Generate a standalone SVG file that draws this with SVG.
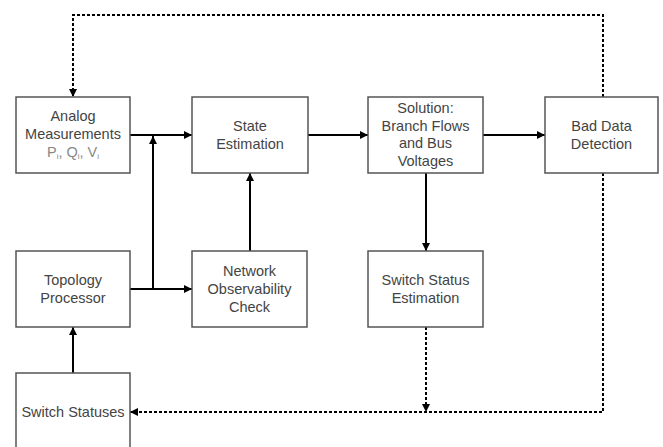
<svg xmlns="http://www.w3.org/2000/svg" width="663" height="447" viewBox="0 0 663 447">
<defs>
<marker id="ahb" viewBox="0 0 10 10" refX="10" refY="5" markerWidth="12" markerHeight="8" markerUnits="userSpaceOnUse" orient="auto"><path d="M0,0 L10,5 L0,10 z" fill="#000"/></marker>
</defs>
<style>
.box{fill:#fff;stroke:#555;stroke-width:1.5}
.t{font-family:"Liberation Sans",Arial,sans-serif;font-size:14.5px;fill:#444;text-anchor:middle}
.s{fill:#888}
.c{fill:none;stroke:#000;stroke-width:2}
.d{fill:none;stroke:#000;stroke-width:2;stroke-dasharray:3 2}
</style>
<rect width="663" height="447" fill="#fff"/>
<g id="connectors">
<path class="c" d="M130,135 H192" marker-end="url(#ahb)"/>
<path class="c" d="M308,135 H368" marker-end="url(#ahb)"/>
<path class="c" d="M483,135 H545" marker-end="url(#ahb)"/>
<path class="c" d="M130,289 H192" marker-end="url(#ahb)"/>
<path class="c" d="M153,289 V136" marker-end="url(#ahb)"/>
<path class="c" d="M250,251 V173" marker-end="url(#ahb)"/>
<path class="c" d="M73,373 V327" marker-end="url(#ahb)"/>
<path class="c" d="M426,173 V251" marker-end="url(#ahb)"/>
<path class="d" d="M426,327 V412" marker-end="url(#ahb)"/>
<path class="d" d="M603,173 V412 H130" marker-end="url(#ahb)"/>
<path class="d" d="M603,97 V15 H73 V97" marker-end="url(#ahb)"/>
</g>
<g id="analog">
<rect class="box" x="16" y="97" width="114" height="76"/>
<text class="t" x="73" y="121">Analog</text>
<text class="t" x="73" y="139">Measurements</text>
<text class="t s" x="73" y="157">P<tspan font-size="8" dy="2">i</tspan><tspan dy="-2">, Q</tspan><tspan font-size="8" dy="2">i</tspan><tspan dy="-2">, V</tspan><tspan font-size="8" dy="2">i</tspan></text>
</g>
<g id="state">
<rect class="box" x="192" y="97" width="116" height="76"/>
<text class="t" x="250" y="131">State</text>
<text class="t" x="250" y="149">Estimation</text>
</g>
<g id="solution">
<rect class="box" x="368" y="97" width="115" height="76"/>
<text class="t" x="425.5" y="113">Solution:</text>
<text class="t" x="425.5" y="131">Branch Flows</text>
<text class="t" x="425.5" y="148">and Bus</text>
<text class="t" x="425.5" y="166">Voltages</text>
</g>
<g id="baddata">
<rect class="box" x="545" y="97" width="113" height="76"/>
<text class="t" x="601.5" y="131">Bad Data</text>
<text class="t" x="601.5" y="149">Detection</text>
</g>
<g id="topology">
<rect class="box" x="16" y="251" width="114" height="76"/>
<text class="t" x="73" y="285">Topology</text>
<text class="t" x="73" y="303">Processor</text>
</g>
<g id="network">
<rect class="box" x="192" y="251" width="115" height="76"/>
<text class="t" x="249.5" y="276">Network</text>
<text class="t" x="249.5" y="294">Observability</text>
<text class="t" x="249.5" y="312">Check</text>
</g>
<g id="switchest">
<rect class="box" x="368" y="251" width="115" height="76"/>
<text class="t" x="425.5" y="285">Switch Status</text>
<text class="t" x="425.5" y="303">Estimation</text>
</g>
<g id="switchstatuses">
<rect class="box" x="16" y="373" width="114" height="80"/>
<text class="t" x="73" y="417">Switch Statuses</text>
</g>
</svg>
